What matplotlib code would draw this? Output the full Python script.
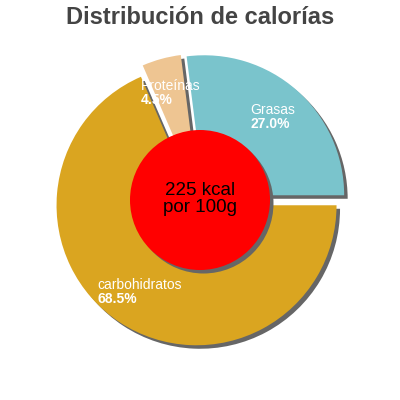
import numpy as np
import matplotlib
matplotlib.use("Agg")
import matplotlib.pyplot as plt
from matplotlib.patches import Circle
from matplotlib.offsetbox import TextArea, VPacker, AnnotationBbox

plt.rcParams['font.family'] = ['Liberation Sans', 'DejaVu Sans']

# Data
labels = ["Grasas", "Proteínas", "carbohidratos"]
percents = [27.0, 4.5, 68.5]
colors = ["#7ac4cc", "#eec592", "#daa520"]
kcal = 225

explode = [0.045] * len(percents)
shadow_off = (0.025, -0.025)
R = 140.0  # pie radius in pixels

fig = plt.figure(figsize=(4, 4), dpi=100)
ax = fig.add_axes([0, 0, 1, 1])

# shadows
ax.pie(percents, explode=explode, colors=["#666666"] * 3, startangle=0,
       center=shadow_off, wedgeprops=dict(linewidth=0))
wedges, _ = ax.pie(percents, explode=explode, colors=colors, startangle=0,
                   wedgeprops=dict(linewidth=0))

# centre circle with shadow
ax.add_patch(Circle(shadow_off, 0.5, color="#666666", lw=0, zorder=3))
ax.add_patch(Circle((0, 0), 0.5, color="#ff0000", lw=0, zorder=4))
ax.text(0, 0.01, f"{kcal} kcal\npor 100g", ha="center", va="center",
        fontsize=13.5, color="black", linespacing=1.0, zorder=5)

# slice labels
for w, name, p in zip(wedges, labels, percents):
    mid = np.deg2rad((w.theta1 + w.theta2) / 2)
    x, y = 0.79 * np.cos(mid), 0.79 * np.sin(mid)
    t1 = TextArea(name, textprops=dict(color="white", fontsize=10))
    t2 = TextArea(f"{p:.1f}%", textprops=dict(color="white", fontsize=10,
                                              weight="bold"))
    box = VPacker(children=[t1, t2], align="left", pad=0, sep=0)
    ab = AnnotationBbox(box, (x, y), frameon=False, box_alignment=(0.5, 0.5),
                        zorder=6)
    ax.add_artist(ab)

ax.set_xlim(-200 / R, 200 / R)
ax.set_ylim(-200 / R, 200 / R)
ax.set_aspect("equal")
ax.axis("off")

fig.text(0.5, 1 - 17 / 400, "Distribución de calorías", ha="center",
         va="center", fontsize=17, weight="bold", color="#444444")

fig.savefig("out.png", dpi=100)
